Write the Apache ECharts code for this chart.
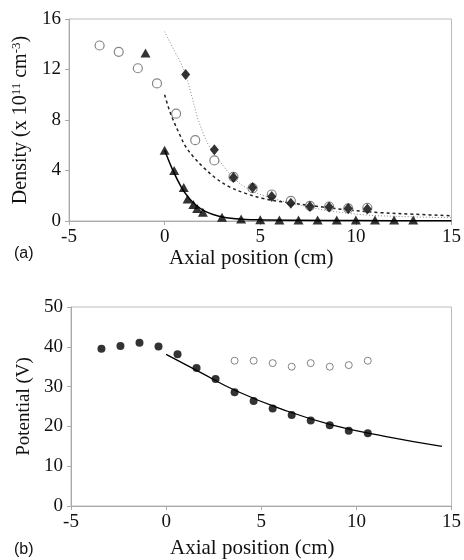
<!DOCTYPE html>
<html>
<head>
<meta charset="utf-8">
<script src="https://cdn.jsdelivr.net/npm/echarts@6/dist/echarts.min.js"></script>
<style>
  html, body { margin: 0; padding: 0; background: #fff; }
  #main { width: 464px; height: 560px; }
</style>
</head>
<body>
<div id="main"></div>
<script>
// (a) density, x 10^11 cm^-3
const densOpenCircles = [[-3.4, 13.9], [-2.4, 13.4], [-1.4, 12.1], [-0.4, 10.9], [0.6, 8.5], [1.6, 6.4], [2.6, 4.8], [3.6, 3.5], [4.6, 2.6], [5.6, 2.1], [6.6, 1.6], [7.6, 1.2], [8.6, 1.15], [9.6, 1.0], [10.6, 1.05]];
const densDiamonds = [[1.1, 11.6], [2.6, 5.65], [3.6, 3.45], [4.6, 2.65], [5.6, 1.95], [6.6, 1.4], [7.6, 1.15], [8.6, 1.1], [9.6, 1.0], [10.6, 0.95]];
const densTriangles = [[-1.0, 13.3], [0, 5.6], [0.5, 4.0], [1.0, 2.65], [1.2, 1.75], [1.5, 1.3], [1.7, 1.0], [2.0, 0.7], [3, 0.3], [4, 0.15], [5, 0.1], [6, 0.08], [7, 0.08], [8, 0.07], [9, 0.07], [10, 0.07], [11, 0.07], [12, 0.07], [13, 0.07]];
const densDottedFit = [[0, 15], [0.4, 13.8], [0.85, 12.5], [1.1, 11.6], [1.4, 10.0], [1.7, 8.3], [2.0, 7.0], [2.3, 6.0], [2.6, 5.3], [3.1, 4.3], [3.6, 3.4], [4.4, 2.5], [5.3, 1.95], [6.5, 1.45], [7.6, 1.1], [8.6, 0.8], [10.5, 0.48], [13, 0.33], [15, 0.26]];
const densDashedFit = [[0, 10], [0.2, 9.0], [0.42, 8.1], [0.77, 6.9], [1.1, 5.9], [1.55, 5.0], [2.06, 4.2], [2.67, 3.4], [3.36, 2.72], [4.23, 2.19], [5.1, 1.8], [6.0, 1.55], [7.5, 1.25], [9.6, 0.87], [11.3, 0.66], [13.1, 0.53], [15, 0.42]];
const densSolidFit = [[0, 5.6], [0.42, 4.05], [0.85, 2.75], [1.2, 1.95], [1.63, 1.27], [2.15, 0.74], [2.84, 0.38], [3.7, 0.18], [4.9, 0.09], [7, 0.05], [10, 0.03], [15, 0.02]];

// (b) potential, V
const potFilled = [[-3.4, 39.5], [-2.4, 40.2], [-1.4, 41.0], [-0.4, 40.1], [0.6, 38.1], [1.6, 34.7], [2.6, 31.9], [3.6, 28.6], [4.6, 26.4], [5.6, 24.5], [6.6, 22.85], [7.6, 21.5], [8.6, 20.3], [9.6, 18.9], [10.6, 18.3]];
const potOpen = [[3.6, 36.5], [4.6, 36.5], [5.6, 35.9], [6.6, 35.0], [7.6, 35.9], [8.6, 35.0], [9.6, 35.4], [10.6, 36.5]];
const potFit = [[0, 38.1], [1.75, 33.7], [3.7, 28.9], [6.1, 24.3], [8.7, 20.4], [11.5, 17.5], [14.5, 15.0]];

const xTicks = [-5, 0, 5, 10, 15];
const densTicks = [0, 4, 8, 12, 16];
const potTicks = [0, 10, 20, 30, 40, 50];

const serif = 'Liberation Serif';
const axisGrey = '#aaa';

function xAxisOf(gridIndex, gap) {
  return {
    gridIndex: gridIndex,
    type: 'value',
    min: xTicks[0],
    max: xTicks[xTicks.length - 1],
    interval: 5,
    name: 'Axial position (cm)',
    nameLocation: 'middle',
    nameGap: gap,
    nameTextStyle: { fontFamily: serif, fontSize: 21, color: '#111', padding: [0, 18, 0, 0] },
    axisLine: { show: true, lineStyle: { color: axisGrey } },
    axisTick: { show: true, length: 4, lineStyle: { color: axisGrey } },
    axisLabel: { fontFamily: serif, fontSize: 19, color: '#111', margin: 7 },
    splitLine: { show: false }
  };
}

function yAxisOf(gridIndex, ticks, name, gap) {
  return {
    gridIndex: gridIndex,
    type: 'value',
    min: ticks[0],
    max: ticks[ticks.length - 1],
    interval: ticks[1] - ticks[0],
    name: name,
    nameLocation: 'middle',
    nameRotate: 90,
    nameGap: gap,
    nameTextStyle: {
      fontFamily: serif, fontSize: 19, color: '#111',
      rich: {
        a: { fontFamily: serif, fontSize: 20, color: '#111', lineHeight: 22 },
        s: { fontFamily: serif, fontSize: 13, color: '#111', verticalAlign: 'top', lineHeight: 13 }
      }
    },
    axisLine: { show: true, onZero: false, lineStyle: { color: axisGrey } },
    axisTick: { show: true, length: 4, lineStyle: { color: axisGrey } },
    axisLabel: { fontFamily: serif, fontSize: 19, color: '#111', margin: 8 },
    splitLine: { show: false }
  };
}

const chart = echarts.init(document.getElementById('main'));

const option = {
  backgroundColor: '#fff',
  animation: false,
  grid: [
    { left: 69, top: 19, width: 385, height: 202, show: true, borderColor: '#bbb', borderWidth: 1 },
    { left: 71, top: 307, width: 382, height: 202, show: true, borderColor: '#bbb', borderWidth: 1 }
  ],
  xAxis: [xAxisOf(0, 22), xAxisOf(1, 32)],
  yAxis: [
    yAxisOf(0, densTicks, '{a|Density (x 10}{s|11}{a| cm}{s|-3}{a|)}', 32),
    yAxisOf(1, potTicks, 'Potential (V)', 37)
  ],
  graphic: [
    { type: 'text', left: 14, top: 246, style: { text: '(a)', font: '16px Liberation Sans', fill: '#111' } },
    { type: 'text', left: 14, top: 542, style: { text: '(b)', font: '16px Liberation Sans', fill: '#111' } }
  ],
  series: [
    {
      type: 'line', xAxisIndex: 0, yAxisIndex: 0, data: densDottedFit,
      smooth: 0.35, symbol: 'none',
      lineStyle: { color: '#888', width: 1, type: [1, 2] }, z: 1
    },
    {
      type: 'line', xAxisIndex: 0, yAxisIndex: 0, data: densDashedFit,
      smooth: 0.35, symbol: 'none',
      lineStyle: { color: '#222', width: 1.5, type: [3, 3] }, z: 1
    },
    {
      type: 'line', xAxisIndex: 0, yAxisIndex: 0, data: densSolidFit,
      smooth: 0.35, symbol: 'none',
      lineStyle: { color: '#000', width: 1.5 }, z: 1
    },
    {
      type: 'scatter', xAxisIndex: 0, yAxisIndex: 0, data: densOpenCircles,
      symbol: 'circle', symbolSize: 9,
      itemStyle: { color: '#fff', borderColor: '#666', borderWidth: 1.2 }, z: 2
    },
    {
      type: 'scatter', xAxisIndex: 0, yAxisIndex: 0, data: densDiamonds,
      symbol: 'diamond', symbolSize: [9, 11],
      itemStyle: { color: '#000' }, z: 3
    },
    {
      type: 'scatter', xAxisIndex: 0, yAxisIndex: 0, data: densTriangles,
      symbol: 'triangle', symbolSize: [10, 9],
      itemStyle: { color: '#000' }, z: 3
    },
    {
      type: 'line', xAxisIndex: 1, yAxisIndex: 1, data: potFit,
      smooth: 0.5, symbol: 'none',
      lineStyle: { color: '#000', width: 1.3 }, z: 1
    },
    {
      type: 'scatter', xAxisIndex: 1, yAxisIndex: 1, data: potFilled,
      symbol: 'circle', symbolSize: 8,
      itemStyle: { color: '#000' }, z: 3
    },
    {
      type: 'scatter', xAxisIndex: 1, yAxisIndex: 1, data: potOpen,
      symbol: 'circle', symbolSize: 7,
      itemStyle: { color: '#fff', borderColor: '#666', borderWidth: 1 }, z: 2
    }
  ]
};

chart.setOption(option);
</script>
</body>
</html>
